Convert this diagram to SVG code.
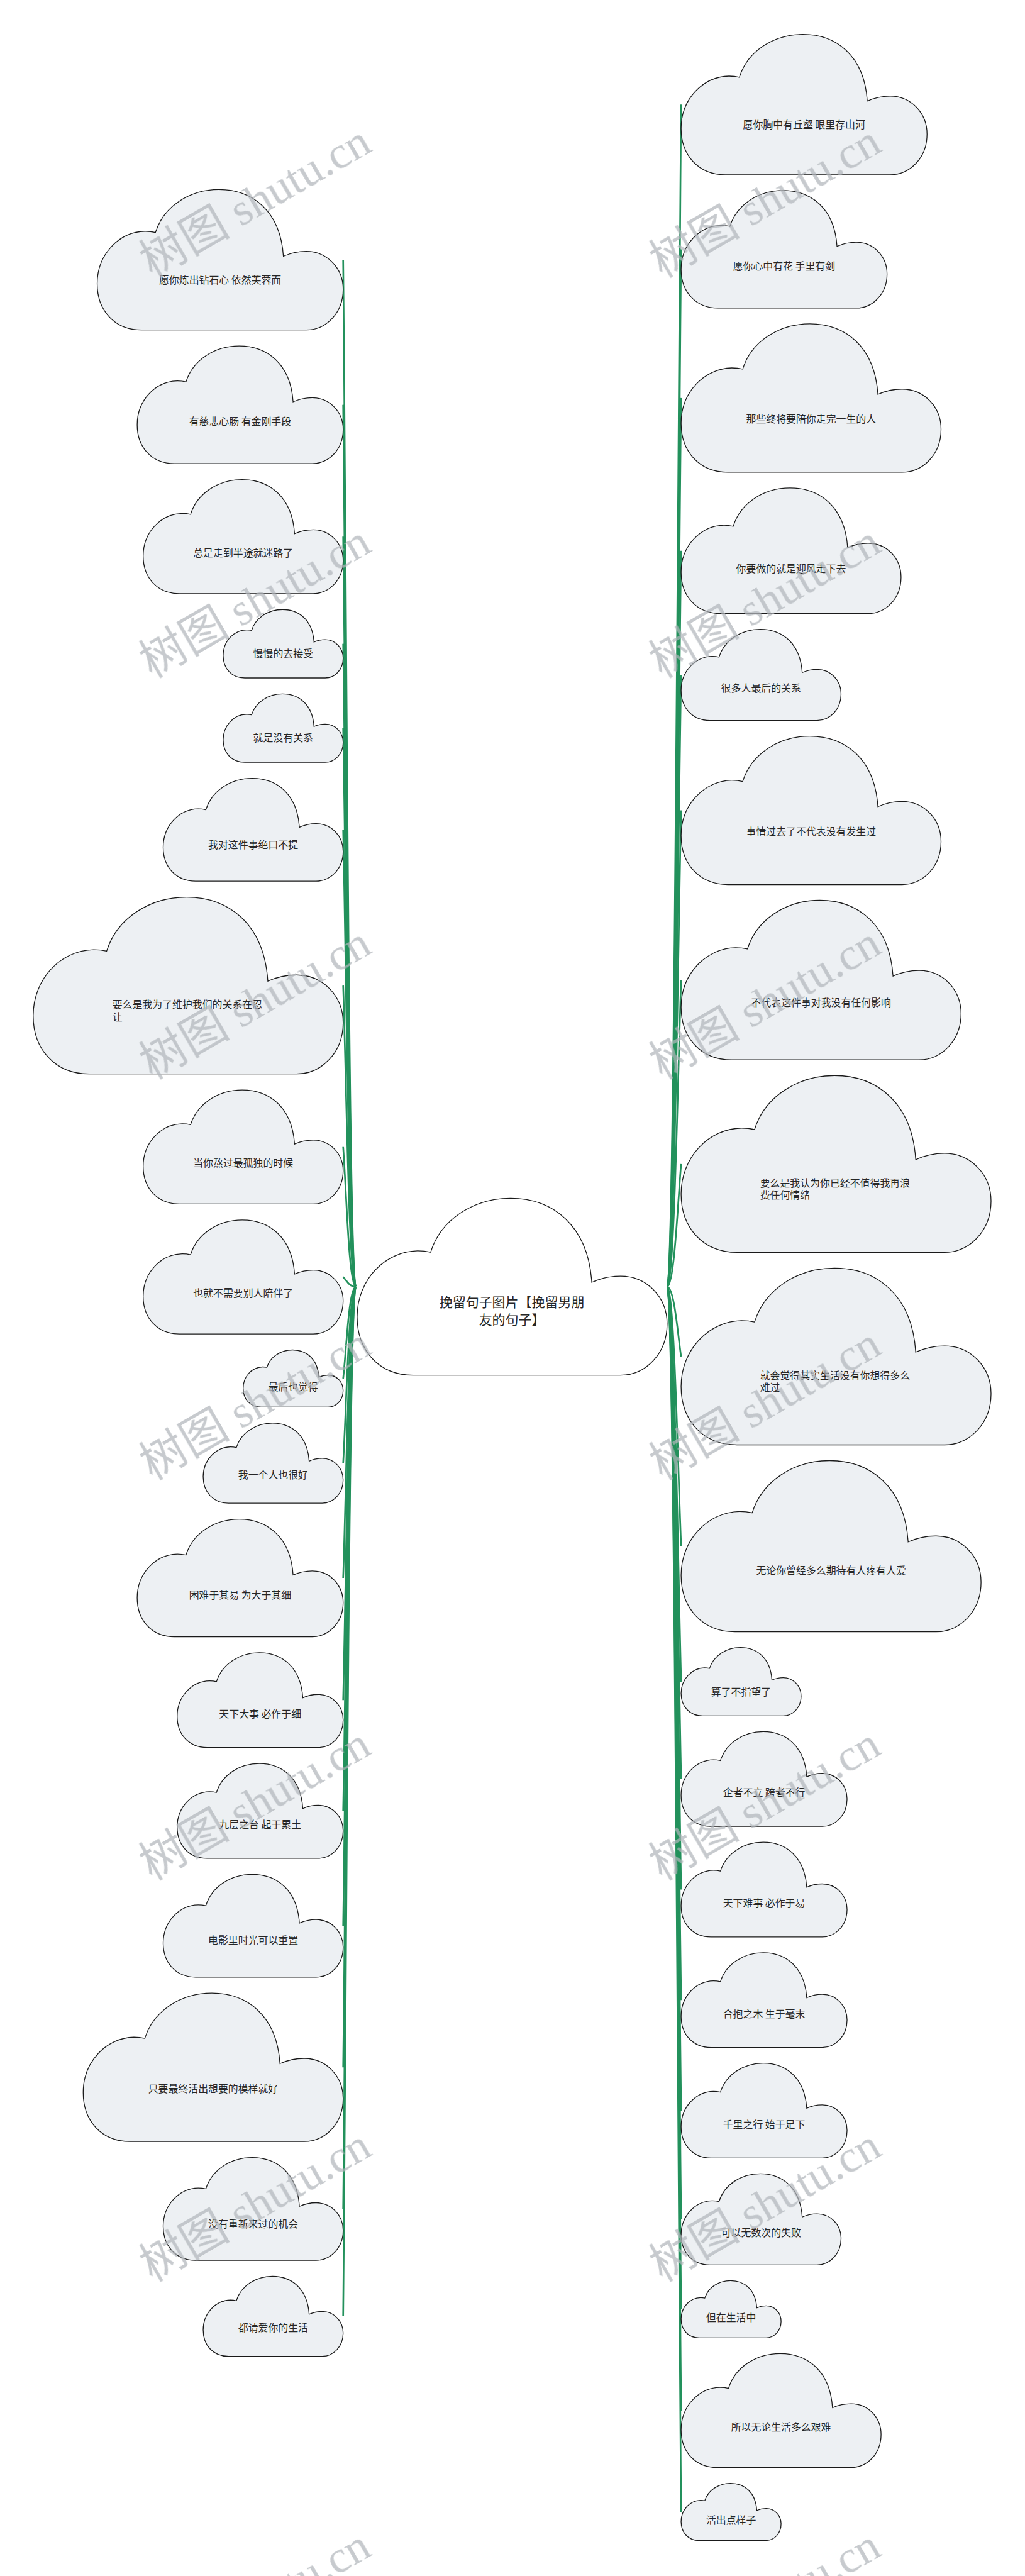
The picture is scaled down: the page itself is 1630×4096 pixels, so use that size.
<svg xmlns="http://www.w3.org/2000/svg" xmlns:xlink="http://www.w3.org/1999/xlink" width="1630" height="4096" viewBox="0 0 1630 4096">
<defs>
<style>
.nd{fill:#edf0f3;stroke:#1a1a1a;stroke-width:1.3}
.ct{fill:#ffffff;stroke:#1a1a1a;stroke-width:1.3}
.tx{font-family:"Noto Sans CJK SC","Noto Sans",sans-serif;font-size:25px;fill:#262626;text-anchor:middle;dominant-baseline:central}
.tl{text-anchor:start}
.tc{font-size:33px}
.cn path{fill:none;stroke:#23915c;stroke-width:4.2}
.wm{font-family:"Liberation Serif","Noto Sans CJK SC",serif;font-size:114px;fill:#b1b6bb;opacity:0.72}
</style>
<path id="cloud" vector-effect="non-scaling-stroke" d="M18,100 C7,100 0,86 0,67 C0,46 9,30 19.5,29.7 C21.2,29.7 22.5,30 23.7,30.5 C27,12 37.5,0 49.5,0 C63,0 74.5,15 75.7,47.5 C78.5,45.3 81.5,44 85,44 C93.5,44 100,56 100,71 C100,88 93,100 85,100 Z"/>
</defs>
<rect width="1630" height="4096" fill="#ffffff"/>
<g transform="scale(0.636)">
<g id="connectors" class="cn">
<path d="M890,3217 C872,3217 866,1419.8 858,649.5"/>
<path d="M890,3217 C872,3217 866,1673.5 858,1012"/>
<path d="M890,3217 C872,3217 866,1904.2 858,1341.5"/>
<path d="M890,3217 C872,3217 866,2091.8 858,1609.5"/>
<path d="M890,3217 C872,3217 866,2239.5 858,1820.5"/>
<path d="M890,3217 C872,3217 866,2417.3 858,2074.5"/>
<path d="M890,3217 C872,3217 866,2689.9 858,2464"/>
<path d="M890,3217 C872,3217 866,2972.4 858,2867.5"/>
<path d="M890,3217 C872,3217 866,3199.9 858,3192.5"/>
<path d="M890,3217 C872,3217 866,3377.7 858,3446.5"/>
<path d="M890,3217 C872,3217 866,3525.7 858,3658"/>
<path d="M890,3217 C872,3217 866,3726.6 858,3945"/>
<path d="M890,3217 C872,3217 866,3940.5 858,4250.5"/>
<path d="M890,3217 C872,3217 866,4134.4 858,4527.5"/>
<path d="M890,3217 C872,3217 866,4335.3 858,4814.5"/>
<path d="M890,3217 C872,3217 866,4583.1 858,5168.5"/>
<path d="M890,3217 C872,3217 866,4830.9 858,5522.5"/>
<path d="M890,3217 C872,3217 866,5018.8 858,5791"/>
<path d="M1668,3217 C1686,3217 1695,1148.2 1703,261.5"/>
<path d="M1668,3217 C1686,3217 1695,1401.4 1703,623.3"/>
<path d="M1668,3217 C1686,3217 1695,1661.7 1703,995.1"/>
<path d="M1668,3217 C1686,3217 1695,1928.9 1703,1376.9"/>
<path d="M1668,3217 C1686,3217 1695,2146.1 1703,1687.2"/>
<path d="M1668,3217 C1686,3217 1695,2383.3 1703,2026"/>
<path d="M1668,3217 C1686,3217 1695,2680.3 1703,2450.3"/>
<path d="M1668,3217 C1686,3217 1695,3002.2 1703,2910.1"/>
<path d="M1668,3217 C1686,3217 1695,3339.1 1703,3391.4"/>
<path d="M1668,3217 C1686,3217 1695,3671.1 1703,3865.7"/>
<path d="M1668,3217 C1686,3217 1695,3908.3 1703,4204.5"/>
<path d="M1668,3217 C1686,3217 1695,4078.6 1703,4447.8"/>
<path d="M1668,3217 C1686,3217 1695,4272 1703,4724.1"/>
<path d="M1668,3217 C1686,3217 1695,4465.4 1703,5000.4"/>
<path d="M1668,3217 C1686,3217 1695,4658.8 1703,5276.7"/>
<path d="M1668,3217 C1686,3217 1695,4849.1 1703,5548.5"/>
<path d="M1668,3217 C1686,3217 1695,5006.4 1703,5773.3"/>
<path d="M1668,3217 C1686,3217 1695,5183.7 1703,6026.6"/>
<path d="M1668,3217 C1686,3217 1695,5361 1703,6279.9"/>
</g>
<g id="n0"><use href="#cloud" class="ct" transform="translate(893,2996) scale(7.75,4.42)"/><text class="tx tc" x="1280" y="3253">挽留句子图片【挽留男朋</text><text class="tx tc" x="1280" y="3297">友的句子】</text></g>
<g id="l1"><use href="#cloud" class="nd" transform="translate(243,474) scale(6.15,3.51)"/><text class="tx" x="550.5" y="698.6">愿你炼出钻石心 依然芙蓉面</text></g>
<g id="l2"><use href="#cloud" class="nd" transform="translate(343,865) scale(5.15,2.94)"/><text class="tx" x="600.5" y="1053">有慈悲心肠 有金刚手段</text></g>
<g id="l3"><use href="#cloud" class="nd" transform="translate(358,1199) scale(5,2.85)"/><text class="tx" x="608" y="1381">总是走到半途就迷路了</text></g>
<g id="l4"><use href="#cloud" class="nd" transform="translate(558,1524) scale(3,1.71)"/><text class="tx" x="708" y="1633">慢慢的去接受</text></g>
<g id="l5"><use href="#cloud" class="nd" transform="translate(558,1735) scale(3,1.71)"/><text class="tx" x="708" y="1844">就是没有关系</text></g>
<g id="l6"><use href="#cloud" class="nd" transform="translate(408,1946) scale(4.5,2.57)"/><text class="tx" x="633" y="2110.5">我对这件事绝口不提</text></g>
<g id="l7"><use href="#cloud" class="nd" transform="translate(83,2243) scale(7.75,4.42)"/><text class="tx tl" x="281" y="2511">要么是我为了维护我们的关系在忍</text><text class="tx tl" x="281" y="2541">让</text></g>
<g id="l8"><use href="#cloud" class="nd" transform="translate(358,2725) scale(5,2.85)"/><text class="tx" x="608" y="2907">当你熬过最孤独的时候</text></g>
<g id="l9"><use href="#cloud" class="nd" transform="translate(358,3050) scale(5,2.85)"/><text class="tx" x="608" y="3232">也就不需要别人陪伴了</text></g>
<g id="l10"><use href="#cloud" class="nd" transform="translate(608,3375) scale(2.5,1.43)"/><text class="tx" x="733" y="3466.5">最后也觉得</text></g>
<g id="l11"><use href="#cloud" class="nd" transform="translate(508,3558) scale(3.5,2)"/><text class="tx" x="683" y="3686">我一个人也很好</text></g>
<g id="l12"><use href="#cloud" class="nd" transform="translate(343,3798) scale(5.15,2.94)"/><text class="tx" x="600.5" y="3986">困难于其易 为大于其细</text></g>
<g id="l13"><use href="#cloud" class="nd" transform="translate(443,4132) scale(4.15,2.37)"/><text class="tx" x="650.5" y="4283.7">天下大事 必作于细</text></g>
<g id="l14"><use href="#cloud" class="nd" transform="translate(443,4409) scale(4.15,2.37)"/><text class="tx" x="650.5" y="4560.7">九层之台 起于累土</text></g>
<g id="l15"><use href="#cloud" class="nd" transform="translate(408,4686) scale(4.5,2.57)"/><text class="tx" x="633" y="4850.5">电影里时光可以重置</text></g>
<g id="l16"><use href="#cloud" class="nd" transform="translate(208,4983) scale(6.5,3.71)"/><text class="tx" x="533" y="5220.4">只要最终活出想要的模样就好</text></g>
<g id="l17"><use href="#cloud" class="nd" transform="translate(408,5394) scale(4.5,2.57)"/><text class="tx" x="633" y="5558.5">没有重新来过的机会</text></g>
<g id="l18"><use href="#cloud" class="nd" transform="translate(508,5691) scale(3.5,2)"/><text class="tx" x="683" y="5819">都请爱你的生活</text></g>
<g id="r1"><use href="#cloud" class="nd" transform="translate(1703,86) scale(6.15,3.51)"/><text class="tx" x="2010.5" y="310.6">愿你胸中有丘壑 眼里存山河</text></g>
<g id="r2"><use href="#cloud" class="nd" transform="translate(1703,476.3) scale(5.15,2.94)"/><text class="tx" x="1960.5" y="664.5">愿你心中有花 手里有剑</text></g>
<g id="r3"><use href="#cloud" class="nd" transform="translate(1703,809.6) scale(6.5,3.71)"/><text class="tx" x="2028" y="1047">那些终将要陪你走完一生的人</text></g>
<g id="r4"><use href="#cloud" class="nd" transform="translate(1703,1219.9) scale(5.5,3.14)"/><text class="tx" x="1978" y="1420.9">你要做的就是迎风走下去</text></g>
<g id="r5"><use href="#cloud" class="nd" transform="translate(1703,1573.2) scale(4,2.28)"/><text class="tx" x="1903" y="1719.2">很多人最后的关系</text></g>
<g id="r6"><use href="#cloud" class="nd" transform="translate(1703,1840.5) scale(6.5,3.71)"/><text class="tx" x="2028" y="2078">事情过去了不代表没有发生过</text></g>
<g id="r7"><use href="#cloud" class="nd" transform="translate(1703,2250.8) scale(7,3.99)"/><text class="tx" x="2053" y="2506">不代表这件事对我没有任何影响</text></g>
<g id="r8"><use href="#cloud" class="nd" transform="translate(1703,2689.1) scale(7.75,4.42)"/><text class="tx tl" x="1900.5" y="2957">要么是我认为你已经不值得我再浪</text><text class="tx tl" x="1900.5" y="2987">费任何情绪</text></g>
<g id="r9"><use href="#cloud" class="nd" transform="translate(1703,3170.4) scale(7.75,4.42)"/><text class="tx tl" x="1900.5" y="3438">就会觉得其实生活没有你想得多么</text><text class="tx tl" x="1900.5" y="3468">难过</text></g>
<g id="r10"><use href="#cloud" class="nd" transform="translate(1703,3651.7) scale(7.5,4.28)"/><text class="tx" x="2078" y="3925.7">无论你曾经多么期待有人疼有人爱</text></g>
<g id="r11"><use href="#cloud" class="nd" transform="translate(1703,4119) scale(3,1.71)"/><text class="tx" x="1853" y="4228.4">算了不指望了</text></g>
<g id="r12"><use href="#cloud" class="nd" transform="translate(1703,4329.3) scale(4.15,2.37)"/><text class="tx" x="1910.5" y="4481">企者不立 跨者不行</text></g>
<g id="r13"><use href="#cloud" class="nd" transform="translate(1703,4605.6) scale(4.15,2.37)"/><text class="tx" x="1910.5" y="4757.3">天下难事 必作于易</text></g>
<g id="r14"><use href="#cloud" class="nd" transform="translate(1703,4881.9) scale(4.15,2.37)"/><text class="tx" x="1910.5" y="5033.6">合抱之木 生于毫末</text></g>
<g id="r15"><use href="#cloud" class="nd" transform="translate(1703,5158.2) scale(4.15,2.37)"/><text class="tx" x="1910.5" y="5309.9">千里之行 始于足下</text></g>
<g id="r16"><use href="#cloud" class="nd" transform="translate(1703,5434.5) scale(4,2.28)"/><text class="tx" x="1903" y="5580.5">可以无数次的失败</text></g>
<g id="r17"><use href="#cloud" class="nd" transform="translate(1703,5701.8) scale(2.5,1.43)"/><text class="tx" x="1828" y="5793.3">但在生活中</text></g>
<g id="r18"><use href="#cloud" class="nd" transform="translate(1703,5884.1) scale(5,2.85)"/><text class="tx" x="1953" y="6066.5">所以无论生活多么艰难</text></g>
<g id="r19"><use href="#cloud" class="nd" transform="translate(1703,6208.4) scale(2.5,1.43)"/><text class="tx" x="1828" y="6299.9">活出点样子</text></g>
<g id="watermarks" class="wm">
<text x="380" y="695" transform="rotate(-30 380 695)">树图 shutu.cn</text>
<text x="380" y="1697" transform="rotate(-30 380 1697)">树图 shutu.cn</text>
<text x="380" y="2699" transform="rotate(-30 380 2699)">树图 shutu.cn</text>
<text x="380" y="3701" transform="rotate(-30 380 3701)">树图 shutu.cn</text>
<text x="380" y="4703" transform="rotate(-30 380 4703)">树图 shutu.cn</text>
<text x="380" y="5705" transform="rotate(-30 380 5705)">树图 shutu.cn</text>
<text x="380" y="6707" transform="rotate(-30 380 6707)">树图 shutu.cn</text>
<text x="1655" y="695" transform="rotate(-30 1655 695)">树图 shutu.cn</text>
<text x="1655" y="1697" transform="rotate(-30 1655 1697)">树图 shutu.cn</text>
<text x="1655" y="2699" transform="rotate(-30 1655 2699)">树图 shutu.cn</text>
<text x="1655" y="3701" transform="rotate(-30 1655 3701)">树图 shutu.cn</text>
<text x="1655" y="4703" transform="rotate(-30 1655 4703)">树图 shutu.cn</text>
<text x="1655" y="5705" transform="rotate(-30 1655 5705)">树图 shutu.cn</text>
<text x="1655" y="6707" transform="rotate(-30 1655 6707)">树图 shutu.cn</text>
</g>
</g>
</svg>
